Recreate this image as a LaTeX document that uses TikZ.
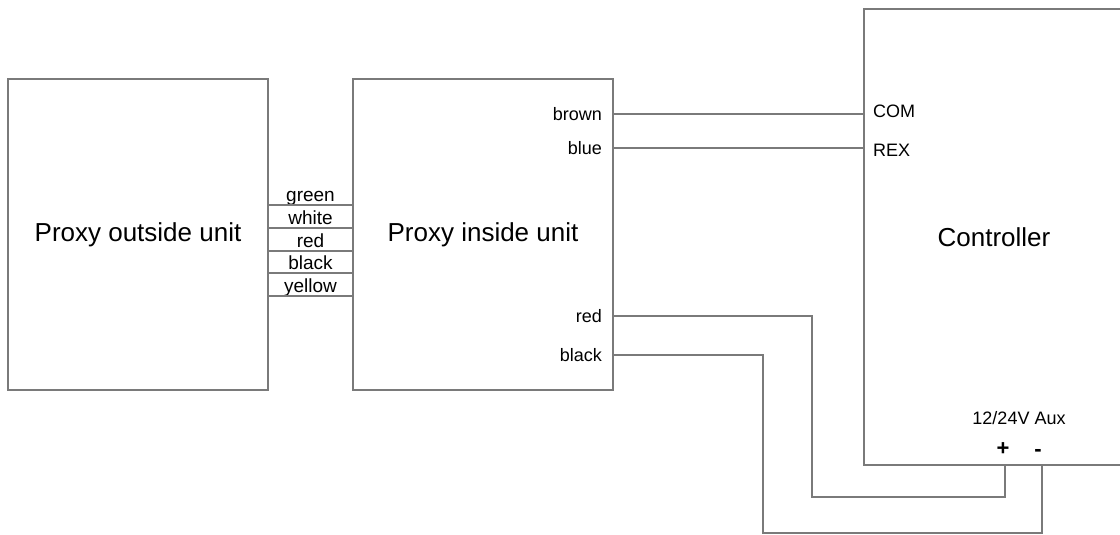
\documentclass[tikz,border=0pt]{standalone}
\usepackage{fontspec}
\setmainfont{Liberation Sans}
\usetikzlibrary{positioning}
\definecolor{wiregray}{HTML}{7A7A7A}
\tikzset{x=1pt, y=-1pt,
unit/.style={ % Sets the properties for each box
draw=wiregray,
line width=1.3pt,
inner sep=0pt,
font=\fontsize{26}{30}\selectfont},
pin/.style={ % small wire labels
inner sep=1pt,
font=\fontsize{18}{21}\selectfont},
tag/.style={ % labels between the proxy units
inner sep=0pt,
font=\fontsize{19}{22}\selectfont},
wire/.style={ % Sets the properties for each wire
draw=wiregray,
line width=1.3pt}}

\begin{document}
\begin{tikzpicture}
\useasboundingbox (0,0) rectangle (1120,535);
\node[unit, minimum width=260pt, minimum height=311pt] (outer) at (138,234.5) {Proxy outside unit};
\node[unit, minimum width=260pt, minimum height=311pt] (inner) at (483,234.5) {Proxy inside unit};
\node[unit, minimum width=260pt, minimum height=456pt] (ctrl) at (994,237) {Controller};
% wires between the proxy units
\foreach \name/\y in {green/205, white/228, red/251, black/273, yellow/296} {
  \coordinate (w\y) at (outer.east |- 0,\y);
  \node[tag, anchor=base] (l\y) at (310.5,\y-4) {\name};
  \draw[wire] (w\y) -- (inner.west |- w\y);
}
% signal wires
\node[pin, anchor=east] (brown) at (603,114) {brown};
\node[pin, anchor=east] (blue) at (603,148) {blue};
\node[pin, anchor=west] (com) at (872,111) {COM};
\node[pin, anchor=west] (rex) at (872,150) {REX};
\draw[wire] (inner.east |- brown) -- (ctrl.west |- brown);
\draw[wire] (inner.east |- blue) -- (ctrl.west |- blue);
% power wires
\node[pin, anchor=east] (pred) at (603,316) {red};
\node[pin, anchor=east] (pblack) at (603,355) {black};
\node[pin] (aux) at (1019,418) {12/24V Aux};
\node[pin, font=\fontsize{22}{24}\bfseries] (plus) at (1003,449) {+};
\node[pin, font=\fontsize{22}{24}\bfseries] (minus) at (1038,453) {-};
\coordinate (vplus) at (1005,465);
\coordinate (vminus) at (1042,465);
\draw[wire] (inner.east |- pred) -| (812,497) -| (vplus);
\draw[wire] (inner.east |- pblack) -| (763,533) -| (vminus);
\end{tikzpicture}
\end{document}
